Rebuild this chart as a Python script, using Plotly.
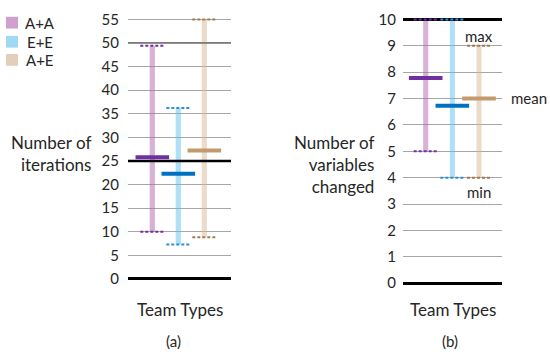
import plotly.graph_objects as go

# ---------------- data ----------------
teams = ["A+A", "E+E", "A+E"]

iter_min = [10.0, 7.3, 8.8]
iter_max = [49.4, 36.2, 55.0]
iter_mean = [25.8, 22.3, 27.2]

vars_min = [5.0, 4.0, 4.0]
vars_max = [10.0, 10.0, 9.0]
vars_mean = [7.78, 6.73, 7.0]

iter_ticks = [0, 5, 10, 15, 20, 25, 30, 35, 40, 45, 50, 55]
vars_ticks = [0, 1, 2, 3, 4, 5, 6, 7, 8, 9, 10]

# emphasised reference levels
iter_ref = [25, 50]
vars_ref = [10]

# ---------------- styles ----------------
W, H = 550, 355
FONT = "Lato"
TXT = "#262626"
range_col = ["rgba(178,100,178,0.5)", "rgba(97,193,235,0.5)", "rgba(215,183,145,0.5)"]
legend_col = ["#cf9fd0", "#9fd9f2", "#e3cfb9"]
mean_col = ["#7030a0", "#0070c0", "#c49a6c"]
dot_col = ["#7030a0", "#2e8fd0", "#a47a50"]


def px_x(p):
    return p / W


def px_y(p):
    return 1 - p / H


X1_RANGE = [-0.935, 3.027]
X2_RANGE = [-0.852, 2.863]

fig = go.Figure()

panels = [
    dict(xa="x", ya="y", mn=iter_min, mx=iter_max, mean=iter_mean, step=26.0, bw=0.2,
         xr=X1_RANGE, refs=iter_ref, ref_style=[("black", 2.5), ("#6e6e6e", 1.5)]),
    dict(xa="x2", ya="y2", mn=vars_min, mx=vars_max, mean=vars_mean, step=26.65, bw=0.19,
         xr=X2_RANGE, refs=vars_ref, ref_style=[("black", 3)]),
]

for p in panels:
    # reference lines first so they sit under the marks
    for r, (c, w) in zip(p["refs"], p["ref_style"]):
        fig.add_trace(go.Scatter(
            x=p["xr"], y=[r, r], mode="lines", line=dict(color=c, width=w),
            showlegend=False, hoverinfo="skip", xaxis=p["xa"], yaxis=p["ya"],
            cliponaxis=False,
        ))
    xs = list(range(len(teams)))
    half = 12.0 / p["step"]
    for i, t in enumerate(teams):
        fig.add_trace(go.Bar(
            x=[xs[i]], y=[p["mx"][i] - p["mn"][i]], base=[p["mn"][i]],
            width=p["bw"], marker=dict(color=range_col[i], line=dict(width=0)),
            name=t, showlegend=False, xaxis=p["xa"], yaxis=p["ya"],
        ))
        fig.add_trace(go.Scatter(
            x=[xs[i] - half, xs[i] + half, None, xs[i] - half, xs[i] + half],
            y=[p["mn"][i], p["mn"][i], None, p["mx"][i], p["mx"][i]],
            mode="lines", line=dict(color=dot_col[i], width=2, dash="3px,2px"),
            showlegend=False, xaxis=p["xa"], yaxis=p["ya"], hoverinfo="skip",
        ))
        fig.add_trace(go.Scatter(
            x=[xs[i]], y=[p["mean"][i]], mode="markers",
            marker=dict(symbol="line-ew", size=24,
                        line=dict(color=mean_col[i], width=4)),
            showlegend=False, xaxis=p["xa"], yaxis=p["ya"],
        ))

fig.update_layout(
    width=W, height=H, margin=dict(l=0, r=0, t=0, b=0), autosize=False,
    paper_bgcolor="white", plot_bgcolor="rgba(0,0,0,0)",
    font=dict(family=FONT, size=14, color=TXT),
    barmode="overlay", showlegend=False,
    xaxis=dict(domain=[px_x(128), px_x(231)], range=X1_RANGE,
               showticklabels=False, showgrid=False, zeroline=False),
    xaxis2=dict(domain=[px_x(403), px_x(502)], range=X2_RANGE, anchor="y2",
                showticklabels=False, showgrid=False, zeroline=False),
    yaxis=dict(domain=[px_y(290), px_y(10)], range=[-2.211, 55.977],
               tickvals=iter_ticks, showgrid=True, gridcolor="#a6a6a6", gridwidth=1,
               zeroline=True, zerolinecolor="black", zerolinewidth=3,
               ticks="", ticklabelstandoff=8, tickfont=dict(size=15)),
    yaxis2=dict(domain=[px_y(290), px_y(10)], range=[-0.234, 10.175], anchor="x2",
                tickvals=vars_ticks, showgrid=True, gridcolor="#a6a6a6", gridwidth=1,
                zeroline=True, zerolinecolor="black", zerolinewidth=3,
                ticks="", ticklabelstandoff=6, tickfont=dict(size=15)),
)

# manual legend
leg_y = [18, 37.5, 56]
leg_tx = [23, 25, 24]
for i, t in enumerate(teams):
    fig.add_shape(type="rect", xref="paper", yref="paper",
                  x0=px_x(6), x1=px_x(18), y0=px_y(leg_y[i] + 6), y1=px_y(leg_y[i] - 6),
                  fillcolor=legend_col[i], line=dict(width=0))
    fig.add_annotation(text=t, xref="paper", yref="paper", x=px_x(leg_tx[i]),
                       y=px_y(leg_y[i]), xanchor="left", yanchor="middle",
                       showarrow=False, font=dict(size=15, color=TXT))

ann = [
    dict(text="Number of<br>iterations", x=93, y=151, xanchor="right", align="right", size=17),
    dict(text="Number of<br>variables<br>changed", x=376, y=163, xanchor="right", align="right", size=17),
    dict(text="Team Types", x=179.5, y=311, xanchor="center", align="center", size=17),
    dict(text="Team Types", x=452.5, y=311, xanchor="center", align="center", size=17),
    dict(text="(a)", x=173, y=343, xanchor="center", align="center", size=15),
    dict(text="(b)", x=450, y=343, xanchor="center", align="center", size=15),
    dict(text="max", x=479, y=32, xanchor="center", align="center", size=15),
    dict(text="mean", x=509, y=95, xanchor="left", align="left", size=15),
    dict(text="min", x=479, y=191, xanchor="center", align="center", size=15),
]
for a in ann:
    fig.add_annotation(text=a["text"], xref="paper", yref="paper", x=px_x(a["x"]),
                       y=px_y(a["y"]), xanchor=a["xanchor"], yanchor="middle",
                       align=a["align"], showarrow=False,
                       font=dict(size=a["size"], color=TXT))

fig.write_html(
    "out.html",
    config={"responsive": False, "displayModeBar": False},
    post_script="document.body.style.margin='0';document.body.style.overflow='hidden';",
)
